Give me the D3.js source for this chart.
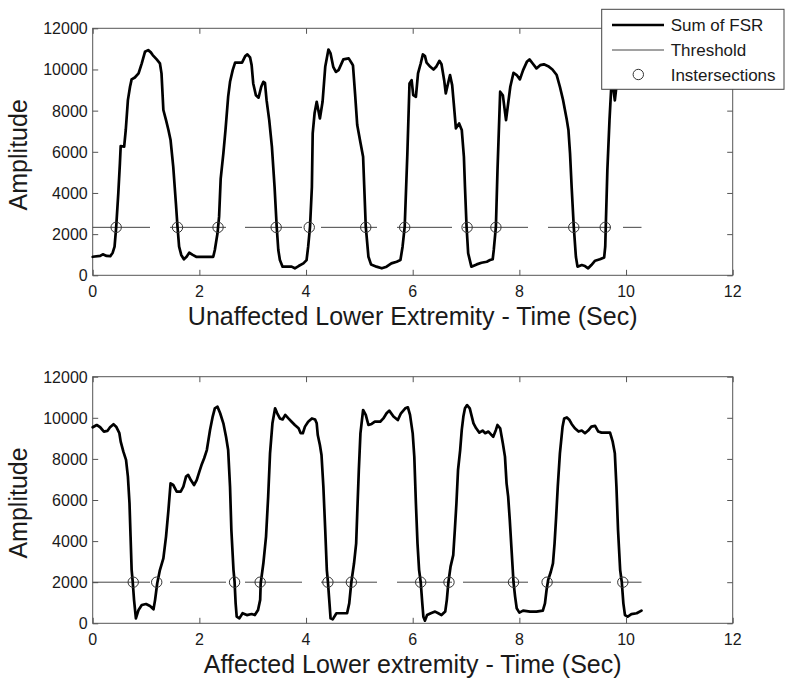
<!DOCTYPE html>
<html>
<head>
<meta charset="utf-8">
<script src="https://cdn.jsdelivr.net/npm/d3@7/dist/d3.min.js"></script>
<style>
  html, body { margin: 0; padding: 0; background: #fff; }
  svg { display: block; }
  text { font-family: "Liberation Sans", Arial, Helvetica, sans-serif; fill: #1a1a1a; }
</style>
</head>
<body>
<svg id="chart" width="794" height="687"></svg>
<script>
// ---------------- DATA ----------------
const xTicks = [0, 2, 4, 6, 8, 10, 12];
const yTicks = [0, 2000, 4000, 6000, 8000, 10000, 12000];

const upperTime = [0, 0.14, 0.19, 0.26, 0.33, 0.375, 0.41, 0.44, 0.48, 0.51, 0.525, 0.59, 0.62, 0.66, 0.70, 0.73, 0.79, 0.86, 0.92, 0.98, 1.04, 1.09, 1.125, 1.2, 1.26, 1.29, 1.325, 1.375, 1.42, 1.46, 1.51, 1.56, 1.59, 1.62, 1.66, 1.71, 1.76, 1.81, 1.875, 1.94, 2.075, 2.26, 2.29, 2.34, 2.37, 2.40, 2.45, 2.49, 2.54, 2.575, 2.625, 2.67, 2.73, 2.8, 2.86, 2.9, 2.95, 2.98, 3.01, 3.06, 3.11, 3.16, 3.2, 3.23, 3.26, 3.31, 3.36, 3.41, 3.45, 3.48, 3.51, 3.56, 3.64, 3.73, 3.79, 3.86, 3.95, 4.01, 4.04, 4.075, 4.11, 4.125, 4.16, 4.2, 4.23, 4.26, 4.31, 4.36, 4.42, 4.46, 4.51, 4.56, 4.61, 4.7, 4.8, 4.86, 4.88, 4.92, 4.96, 5.02, 5.07, 5.09, 5.12, 5.17, 5.22, 5.32, 5.42, 5.51, 5.6, 5.7, 5.77, 5.81, 5.85, 5.9, 5.94, 5.98, 6.01, 6.06, 6.1, 6.15, 6.19, 6.23, 6.26, 6.33, 6.39, 6.44, 6.5, 6.54, 6.59, 6.62, 6.67, 6.7, 6.74, 6.77, 6.81, 6.87, 6.92, 6.96, 6.98, 7.01, 7.04, 7.1, 7.2, 7.29, 7.39, 7.45, 7.5, 7.52, 7.56, 7.59, 7.64, 7.69, 7.75, 7.79, 7.83, 7.89, 7.95, 8.01, 8.07, 8.14, 8.19, 8.25, 8.32, 8.39, 8.46, 8.54, 8.62, 8.7, 8.76, 8.82, 8.89, 8.92, 8.95, 8.98, 9.02, 9.06, 9.09, 9.17, 9.23, 9.29, 9.35, 9.42, 9.51, 9.59, 9.61, 9.62, 9.65, 9.69, 9.72, 9.75, 9.79, 9.83, 9.9];
const upperSum = [900, 940, 1020, 940, 930, 1100, 1390, 2330, 3980, 5440, 6280, 6250, 7060, 8510, 9160, 9520, 9610, 9810, 10300, 10860, 10940, 10830, 10700, 10490, 10300, 9810, 8030, 7540, 7060, 6570, 5280, 3500, 2360, 1390, 990, 780, 900, 1100, 990, 900, 900, 900, 1230, 2040, 2850, 4700, 5920, 7060, 8680, 9400, 9970, 10330, 10330, 10330, 10650, 10730, 10590, 10210, 9320, 8750, 8630, 9160, 9400, 9350, 8510, 7540, 6250, 4300, 2360, 1230, 740, 420, 420, 420, 340, 450, 580, 740, 1390, 2360, 4300, 6900, 7870, 8430, 8030, 7620, 8430, 10130, 10970, 10780, 10130, 9880, 9970, 10490, 10540, 10290, 10200, 8800, 7300, 6450, 5760, 4400, 2360, 900, 520, 420, 340, 420, 580, 660, 740, 1390, 2360, 5920, 9320, 9480, 8750, 8670, 9810, 10290, 10730, 10650, 10330, 10130, 10000, 10130, 10420, 10250, 9480, 8840, 9400, 9730, 9240, 8350, 7140, 7380, 7060, 5760, 4300, 2360, 1070, 420, 530, 610, 660, 740, 780, 1230, 2360, 5110, 8920, 8750, 7540, 8350, 9160, 9840, 9730, 9520, 9970, 10370, 10490, 10290, 10050, 10210, 10250, 10160, 10000, 9730, 9160, 8510, 7540, 7060, 5920, 4300, 2360, 900, 420, 500, 450, 340, 500, 710, 780, 870, 1390, 2360, 5110, 7540, 9000, 9300, 8500, 9400, 10000];
const upperThreshold = 2330;
const upperCrossings = [0.44, 1.59, 2.35, 3.44, 4.06, 5.12, 5.85, 7.02, 7.56, 9.02, 9.61];

const lowerTime = [0, 0.075, 0.14, 0.21, 0.275, 0.325, 0.39, 0.44, 0.5, 0.525, 0.575, 0.625, 0.66, 0.69, 0.71, 0.73, 0.75, 0.775, 0.81, 0.86, 0.92, 1.0, 1.075, 1.14, 1.17, 1.21, 1.26, 1.325, 1.375, 1.42, 1.46, 1.51, 1.575, 1.65, 1.7, 1.75, 1.79, 1.84, 1.9, 1.95, 2.0, 2.04, 2.09, 2.14, 2.2, 2.25, 2.29, 2.34, 2.39, 2.45, 2.5, 2.54, 2.575, 2.6, 2.64, 2.66, 2.68, 2.7, 2.75, 2.81, 2.89, 2.98, 3.04, 3.1, 3.14, 3.15, 3.2, 3.25, 3.29, 3.325, 3.37, 3.42, 3.46, 3.51, 3.56, 3.61, 3.67, 3.73, 3.79, 3.86, 3.9, 3.94, 3.98, 4.04, 4.11, 4.17, 4.2, 4.22, 4.26, 4.29, 4.325, 4.36, 4.39, 4.41, 4.44, 4.46, 4.5, 4.57, 4.67, 4.77, 4.81, 4.85, 4.9, 4.94, 4.96, 4.99, 5.02, 5.07, 5.12, 5.17, 5.23, 5.29, 5.39, 5.45, 5.51, 5.56, 5.64, 5.72, 5.78, 5.86, 5.91, 5.95, 6.0, 6.03, 6.06, 6.09, 6.12, 6.15, 6.18, 6.2, 6.23, 6.27, 6.34, 6.42, 6.48, 6.54, 6.61, 6.64, 6.67, 6.71, 6.76, 6.79, 6.82, 6.85, 6.89, 6.92, 6.95, 6.98, 7.02, 7.07, 7.1, 7.14, 7.19, 7.25, 7.31, 7.36, 7.42, 7.48, 7.51, 7.56, 7.59, 7.64, 7.69, 7.73, 7.76, 7.79, 7.82, 7.85, 7.89, 7.92, 7.95, 8.0, 8.07, 8.2, 8.32, 8.44, 8.48, 8.51, 8.54, 8.59, 8.63, 8.66, 8.69, 8.72, 8.76, 8.81, 8.84, 8.89, 8.94, 8.98, 9.04, 9.11, 9.17, 9.23, 9.29, 9.35, 9.42, 9.48, 9.54, 9.64, 9.7, 9.75, 9.79, 9.82, 9.85, 9.89, 9.92, 9.95, 9.98, 10.03, 10.1, 10.2, 10.29];
const lowerSum = [9540, 9650, 9540, 9330, 9360, 9540, 9690, 9570, 9250, 8840, 8350, 7950, 7140, 5840, 4220, 2600, 2030, 1140, 240, 650, 890, 940, 840, 680, 1140, 1950, 2590, 3160, 4220, 5510, 6810, 6730, 6410, 6410, 6650, 7140, 7220, 6970, 6730, 6970, 7380, 7700, 8030, 8430, 9410, 10060, 10460, 10540, 10220, 9730, 9080, 8430, 6650, 4540, 2590, 2030, 970, 320, 240, 490, 400, 450, 400, 650, 1140, 1950, 2920, 4220, 6160, 8270, 9730, 10460, 10220, 9970, 9920, 10140, 9970, 9810, 9650, 9490, 9250, 9250, 9570, 9810, 9970, 9920, 9730, 9160, 8680, 8190, 6650, 4540, 2590, 2030, 970, 240, 190, 490, 490, 490, 970, 2010, 2920, 3890, 5350, 7460, 9240, 10380, 10140, 9650, 9700, 9810, 9810, 9970, 10220, 10350, 10060, 9890, 10220, 10460, 10510, 10140, 9240, 8110, 5840, 3890, 2590, 2010, 970, 320, 130, 400, 490, 570, 490, 400, 570, 1140, 2010, 2760, 3320, 4540, 5840, 7460, 8430, 9410, 10060, 10460, 10620, 10460, 10140, 9730, 9490, 9280, 9380, 9250, 9330, 9160, 9080, 9410, 9650, 9490, 8760, 8110, 6810, 6160, 5030, 3730, 2010, 1300, 730, 520, 620, 570, 570, 620, 970, 1620, 2110, 2510, 2920, 3890, 5190, 6650, 8270, 9570, 9970, 10020, 9890, 9700, 9490, 9330, 9380, 9250, 9380, 9570, 9610, 9330, 9280, 9280, 9280, 8840, 8270, 6650, 4540, 2590, 2010, 970, 400, 320, 450, 490, 620];
const lowerThreshold = 2000;
const lowerCrossings = [0.76, 1.2, 2.66, 3.14, 4.41, 4.85, 6.15, 6.68, 7.89, 8.52, 9.94];

const thresholdSpan = [0, 10.29];
const legendLabels = ["Sum of FSR", "Threshold", "Instersections"];
const xTitles = ["Unaffected Lower Extremity - Time (Sec)", "Affected Lower extremity - Time (Sec)"];
const yTitle = "Amplitude";

// ---------------- DRAWING ----------------
const svg = d3.select("#chart");
const left = 92.7, right = 732.7;
const x = d3.scaleLinear().domain([0, 12]).range([left, right]);

const panels = [
  { top: 28.3, bottom: 275.3, t: upperTime, v: upperSum, thr: upperThreshold, cross: upperCrossings, title: xTitles[0] },
  { top: 376.7, bottom: 623.3, t: lowerTime, v: lowerSum, thr: lowerThreshold, cross: lowerCrossings, title: xTitles[1] }
];

const axisColor = "#555";
const tickLen = 5.5;
const dashPattern = "57.3,20,56,19,57,19,56,20,55,11,65,20,63,12,30";

panels.forEach(p => {
  const y = d3.scaleLinear().domain([0, 12000]).range([p.bottom, p.top]);
  const g = svg.append("g");

  // box
  g.append("rect")
    .attr("x", left).attr("y", p.top)
    .attr("width", right - left).attr("height", p.bottom - p.top)
    .attr("fill", "none").attr("stroke", axisColor).attr("stroke-width", 1);

  // axes (inward ticks) via d3 axes
  const xb = g.append("g").attr("transform", `translate(0,${p.bottom})`)
    .call(d3.axisTop(x).tickValues(xTicks).tickSize(tickLen).tickFormat(""));
  const xt = g.append("g").attr("transform", `translate(0,${p.top})`)
    .call(d3.axisBottom(x).tickValues(xTicks).tickSize(tickLen).tickFormat(""));
  const yl = g.append("g").attr("transform", `translate(${left},0)`)
    .call(d3.axisRight(y).tickValues(yTicks).tickSize(tickLen).tickFormat(""));
  const yr = g.append("g").attr("transform", `translate(${right},0)`)
    .call(d3.axisLeft(y).tickValues(yTicks).tickSize(tickLen).tickFormat(""));
  [xb, xt, yl, yr].forEach(a => {
    a.select(".domain").remove();
    a.selectAll("line").attr("stroke", axisColor).attr("stroke-width", 1);
  });

  // tick labels
  g.selectAll(".xl").data(xTicks).enter().append("text")
    .attr("x", d => x(d)).attr("y", p.bottom + 22)
    .attr("text-anchor", "middle").attr("font-size", 16).text(d => d);
  g.selectAll(".yl").data(yTicks).enter().append("text")
    .attr("x", left - 5).attr("y", d => y(d) + 6)
    .attr("text-anchor", "end").attr("font-size", 16).text(d => d);

  // titles
  g.append("text").attr("x", (left + right) / 2).attr("y", p.bottom + 50)
    .attr("text-anchor", "middle").attr("font-size", 25).text(p.title);
  g.append("text")
    .attr("transform", `translate(27,${(p.top + p.bottom) / 2 + 3}) rotate(-90)`)
    .attr("text-anchor", "middle").attr("font-size", 25).text(yTitle);

  // threshold line
  g.append("line")
    .attr("x1", x(thresholdSpan[0])).attr("x2", x(thresholdSpan[1]))
    .attr("y1", y(p.thr)).attr("y2", y(p.thr))
    .attr("stroke", "#444").attr("stroke-width", 1)
    .attr("stroke-dasharray", dashPattern);

  // curve
  const pts = p.t.map((t, i) => [t, p.v[i]]);
  g.append("path").datum(pts)
    .attr("d", d3.line().x(d => x(d[0])).y(d => y(d[1])))
    .attr("fill", "none").attr("stroke", "#000").attr("stroke-width", 2.7)
    .attr("stroke-linejoin", "round").attr("stroke-linecap", "round");

  // intersections
  g.selectAll(".cross").data(p.cross).enter().append("circle")
    .attr("cx", d => x(d)).attr("cy", y(p.thr)).attr("r", 5.2)
    .attr("fill", "none").attr("stroke", "#333").attr("stroke-width", 1);
});

// legend
const lg = svg.append("g");
lg.append("rect").attr("x", 601.7).attr("y", 9.3).attr("width", 182.3).attr("height", 80)
  .attr("fill", "#fff").attr("stroke", "#444").attr("stroke-width", 1);
const rows = [25, 50, 74.5];
lg.append("line").attr("x1", 612).attr("x2", 664).attr("y1", rows[0]).attr("y2", rows[0])
  .attr("stroke", "#000").attr("stroke-width", 2.7);
lg.append("line").attr("x1", 612).attr("x2", 664).attr("y1", rows[1]).attr("y2", rows[1])
  .attr("stroke", "#444").attr("stroke-width", 1);
lg.append("circle").attr("cx", 638.3).attr("cy", rows[2]).attr("r", 5.2)
  .attr("fill", "none").attr("stroke", "#333").attr("stroke-width", 1);
lg.selectAll(".lt").data(legendLabels).enter().append("text")
  .attr("x", 670.7).attr("y", (d, i) => rows[i] + 6)
  .attr("font-size", 17).text(d => d);
</script>
</body>
</html>
